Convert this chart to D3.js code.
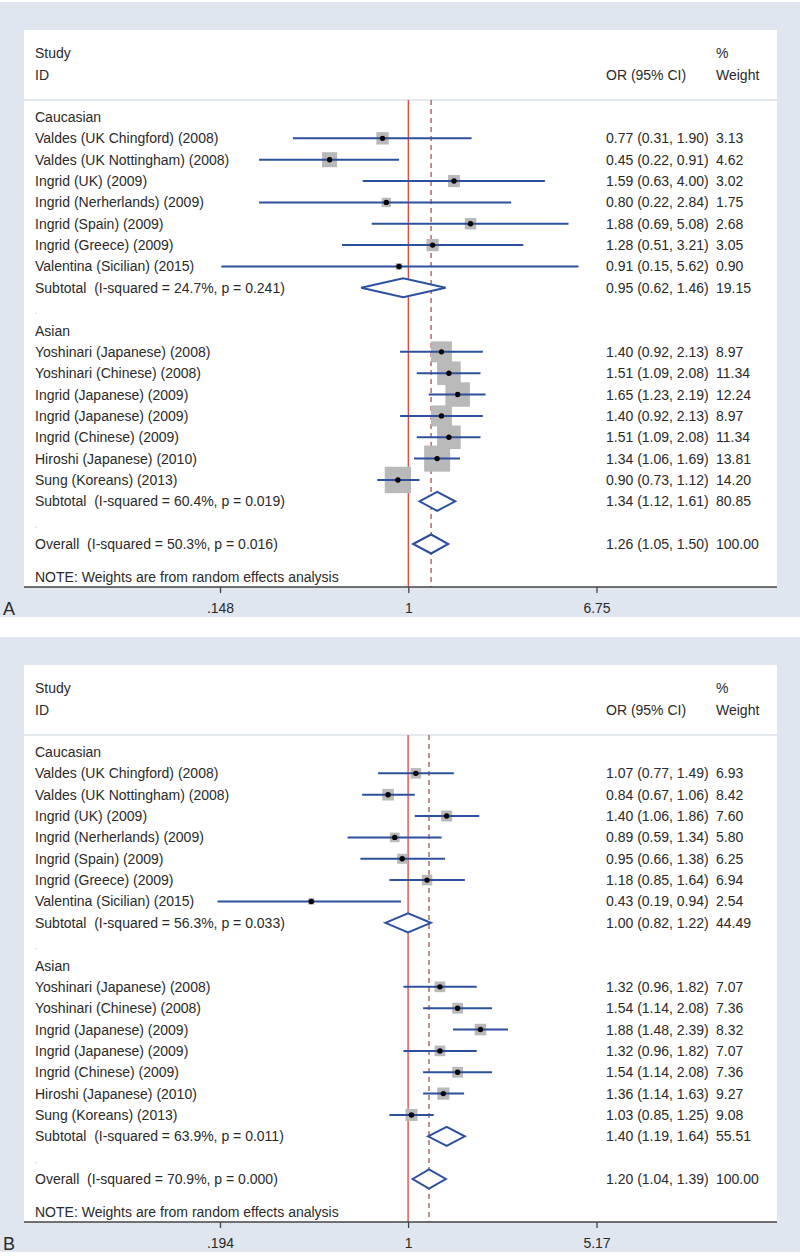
<!DOCTYPE html>
<html>
<head>
<meta charset="utf-8">
<script src="https://cdn.jsdelivr.net/npm/d3@7"></script>
<style>
  html, body { margin: 0; padding: 0; background: #ffffff; }
  svg { display: block; }
  text { font-family: "Liberation Sans", Arial, Helvetica, sans-serif; }
</style>
</head>
<body>
<svg id="chart" width="800" height="1256"></svg>
<script>
// ---------- DATA ----------
const groups = ["Caucasian", "Asian"];
const studyLabels = [
  "Valdes (UK Chingford) (2008)",
  "Valdes (UK Nottingham) (2008)",
  "Ingrid (UK) (2009)",
  "Ingrid (Nerherlands) (2009)",
  "Ingrid (Spain) (2009)",
  "Ingrid (Greece) (2009)",
  "Valentina (Sicilian) (2015)",
  "Yoshinari (Japanese) (2008)",
  "Yoshinari (Chinese) (2008)",
  "Ingrid (Japanese) (2009)",
  "Ingrid (Japanese) (2009)",
  "Ingrid (Chinese) (2009)",
  "Hiroshi (Japanese) (2010)",
  "Sung (Koreans) (2013)"
];
const studyGroup = ["Caucasian","Caucasian","Caucasian","Caucasian","Caucasian","Caucasian","Caucasian",
                    "Asian","Asian","Asian","Asian","Asian","Asian","Asian"];

// Panel A
const orA  = [0.77, 0.45, 1.59, 0.80, 1.88, 1.28, 0.91, 1.40, 1.51, 1.65, 1.40, 1.51, 1.34, 0.90];
const loA  = [0.31, 0.22, 0.63, 0.22, 0.69, 0.51, 0.15, 0.92, 1.09, 1.23, 0.92, 1.09, 1.06, 0.73];
const hiA  = [1.90, 0.91, 4.00, 2.84, 5.08, 3.21, 5.62, 2.13, 2.08, 2.19, 2.13, 2.08, 1.69, 1.12];
const wA   = [3.13, 4.62, 3.02, 1.75, 2.68, 3.05, 0.90, 8.97, 11.34, 12.24, 8.97, 11.34, 13.81, 14.20];
const subLabelA = ["Subtotal  (I-squared = 24.7%, p = 0.241)", "Subtotal  (I-squared = 60.4%, p = 0.019)"];
const subOrA = [0.95, 1.34];
const subLoA = [0.62, 1.12];
const subHiA = [1.46, 1.61];
const subWA  = [19.15, 80.85];
const overallLabelA = "Overall  (I-squared = 50.3%, p = 0.016)";
const overallA = [1.26, 1.05, 1.50, 100.00];
const ticksA = [0.148, 1, 6.75];
const tickLabelsA = [".148", "1", "6.75"];

// Panel B
const orB  = [1.07, 0.84, 1.40, 0.89, 0.95, 1.18, 0.43, 1.32, 1.54, 1.88, 1.32, 1.54, 1.36, 1.03];
const loB  = [0.77, 0.67, 1.06, 0.59, 0.66, 0.85, 0.19, 0.96, 1.14, 1.48, 0.96, 1.14, 1.14, 0.85];
const hiB  = [1.49, 1.06, 1.86, 1.34, 1.38, 1.64, 0.94, 1.82, 2.08, 2.39, 1.82, 2.08, 1.63, 1.25];
const wB   = [6.93, 8.42, 7.60, 5.80, 6.25, 6.94, 2.54, 7.07, 7.36, 8.32, 7.07, 7.36, 9.27, 9.08];
const subLabelB = ["Subtotal  (I-squared = 56.3%, p = 0.033)", "Subtotal  (I-squared = 63.9%, p = 0.011)"];
const subOrB = [1.00, 1.40];
const subLoB = [0.82, 1.19];
const subHiB = [1.22, 1.64];
const subWB  = [44.49, 55.51];
const overallLabelB = "Overall  (I-squared = 70.9%, p = 0.000)";
const overallB = [1.20, 1.04, 1.39, 100.00];
const ticksB = [0.194, 1, 5.17];
const tickLabelsB = [".194", "1", "5.17"];

const noteText = "NOTE: Weights are from random effects analysis";

// ---------- DRAW ----------
const svg = d3.select("#chart");
const BG = "#dfe6f0", BLUE = "#2c4f9e", RED = "#e2413a", DASH = "#a8433d", TXT = "#2a2a2a";

function fmt(v) { return v.toFixed(2); }

function drawPanel(cfg) {
  const g = svg.append("g").attr("transform", `translate(0,${cfg.top})`);
  // backgrounds
  g.append("rect").attr("x", 0).attr("y", 2).attr("width", 800).attr("height", 615).attr("fill", BG);
  g.append("rect").attr("x", 24).attr("y", 30).attr("width", 753).attr("height", 557).attr("fill", "#ffffff");

  const maxT = d3.max(cfg.ticks);
  const x = d3.scaleLog().domain([d3.min(cfg.ticks), maxT]).range([220, 596.5]);

  // rows
  const rows = [];
  groups.forEach((grp, gi) => {
    rows.push({type: "head", label: grp});
    studyLabels.forEach((lab, i) => {
      if (studyGroup[i] === grp) rows.push({type: "study", label: lab, or: cfg.or[i], lo: cfg.lo[i], hi: cfg.hi[i], w: cfg.w[i]});
    });
    rows.push({type: "sub", label: cfg.subLabel[gi], or: cfg.subOr[gi], lo: cfg.subLo[gi], hi: cfg.subHi[gi], w: cfg.subW[gi]});
    rows.push({type: "blank", label: "."});
  });
  rows.push({type: "sub", label: cfg.overallLabel, or: cfg.overall[0], lo: cfg.overall[1], hi: cfg.overall[2], w: cfg.overall[3]});
  rows.forEach((r, i) => r.i = i);
  const yRow = i => 117 + i * 21.35;

  // header
  const hdr = g.append("g").attr("fill", TXT).attr("font-size", 14);
  hdr.append("text").attr("x", 35).attr("y", 58).text("Study");
  hdr.append("text").attr("x", 35).attr("y", 80).text("ID");
  hdr.append("text").attr("x", 606).attr("y", 80).text("OR (95% CI)");
  hdr.append("text").attr("x", 716).attr("y", 58).text("%");
  hdr.append("text").attr("x", 716).attr("y", 80).text("Weight");
  g.append("line").attr("x1", 24).attr("x2", 777).attr("y1", 100).attr("y2", 100)
    .attr("stroke", "#c9d2df").attr("stroke-width", 1.2);

  // reference lines
  g.append("line").attr("x1", x(1)).attr("x2", x(1)).attr("y1", 100).attr("y2", 587)
    .attr("stroke", RED).attr("stroke-width", 1.3);
  g.append("line").attr("x1", x(cfg.overall[0])).attr("x2", x(cfg.overall[0])).attr("y1", 100).attr("y2", 587)
    .attr("stroke", DASH).attr("stroke-width", 1.2).attr("stroke-dasharray", "5,4");

  // labels
  g.append("g").selectAll("text").data(rows).join("text")
    .attr("x", 35).attr("y", d => yRow(d.i) + 5)
    .attr("font-size", d => d.type === "blank" ? 8 : 14)
    .attr("fill", d => d.type === "blank" ? "#999" : TXT)
    .style("white-space", "pre")
    .text(d => d.label);

  // value columns
  const vals = rows.filter(r => r.type === "study" || r.type === "sub");
  g.append("g").selectAll("text").data(vals).join("text")
    .attr("x", 606).attr("y", d => yRow(d.i) + 5).attr("font-size", 14).attr("fill", TXT)
    .text(d => `${fmt(d.or)} (${fmt(d.lo)}, ${fmt(d.hi)})`);
  g.append("g").selectAll("text").data(vals).join("text")
    .attr("x", 716).attr("y", d => yRow(d.i) + 5).attr("font-size", 14).attr("fill", TXT)
    .text(d => fmt(d.w));

  // studies
  const studies = rows.filter(r => r.type === "study");
  g.append("g").selectAll("rect").data(studies).join("rect")
    .attr("x", d => x(d.or) - cfg.box * Math.sqrt(d.w) / 2)
    .attr("y", d => yRow(d.i) - cfg.box * Math.sqrt(d.w) / 2)
    .attr("width", d => cfg.box * Math.sqrt(d.w))
    .attr("height", d => cfg.box * Math.sqrt(d.w))
    .attr("fill", "#b9b9b9");
  g.append("g").selectAll("line").data(studies).join("line")
    .attr("x1", d => x(d.lo)).attr("x2", d => x(d.hi))
    .attr("y1", d => yRow(d.i)).attr("y2", d => yRow(d.i))
    .attr("stroke", BLUE).attr("stroke-width", 2);
  g.append("g").selectAll("circle").data(studies).join("circle")
    .attr("cx", d => x(d.or)).attr("cy", d => yRow(d.i)).attr("r", 2.7).attr("fill", "#000");

  // diamonds
  const subs = rows.filter(r => r.type === "sub");
  g.append("g").selectAll("path").data(subs).join("path")
    .attr("d", d => {
      const y = yRow(d.i), h = 9.5;
      return `M${x(d.lo)},${y}L${x(d.or)},${y - h}L${x(d.hi)},${y}L${x(d.or)},${y + h}Z`;
    })
    .attr("fill", "#fff").attr("stroke", BLUE).attr("stroke-width", 2).attr("stroke-linejoin", "miter");

  // note
  g.append("text").attr("x", 35).attr("y", 582).attr("font-size", 14).attr("fill", TXT).text(noteText);

  // axis
  const axis = d3.axisBottom(x).tickValues(cfg.ticks)
    .tickFormat((d, i) => cfg.tickLabels[i]).tickSize(6).tickSizeOuter(0).tickPadding(10);
  const ag = g.append("g").attr("transform", "translate(0,587)").call(axis);
  ag.select(".domain").remove();
  ag.selectAll(".tick line").attr("stroke", "#444").attr("stroke-width", 1.3);
  ag.selectAll(".tick text").attr("font-size", 14).attr("fill", TXT)
    .attr("font-family", "'Liberation Sans', Arial, sans-serif");
  g.append("line").attr("x1", 24).attr("x2", 777).attr("y1", 587).attr("y2", 587)
    .attr("stroke", "#444").attr("stroke-width", 1.5);

  // panel letter
  g.append("text").attr("x", 3).attr("y", 615).attr("font-size", 18).attr("fill", TXT).text(cfg.letter);
}

drawPanel({top: 0, letter: "A", or: orA, lo: loA, hi: hiA, w: wA,
  subLabel: subLabelA, subOr: subOrA, subLo: subLoA, subHi: subHiA, subW: subWA,
  overallLabel: overallLabelA, overall: overallA, ticks: ticksA, tickLabels: tickLabelsA, box: 7});
drawPanel({top: 635, letter: "B", or: orB, lo: loB, hi: hiB, w: wB,
  subLabel: subLabelB, subOr: subOrB, subLo: subLoB, subHi: subHiB, subW: subWB,
  overallLabel: overallLabelB, overall: overallB, ticks: ticksB, tickLabels: tickLabelsB, box: 4});
</script>
</body>
</html>
